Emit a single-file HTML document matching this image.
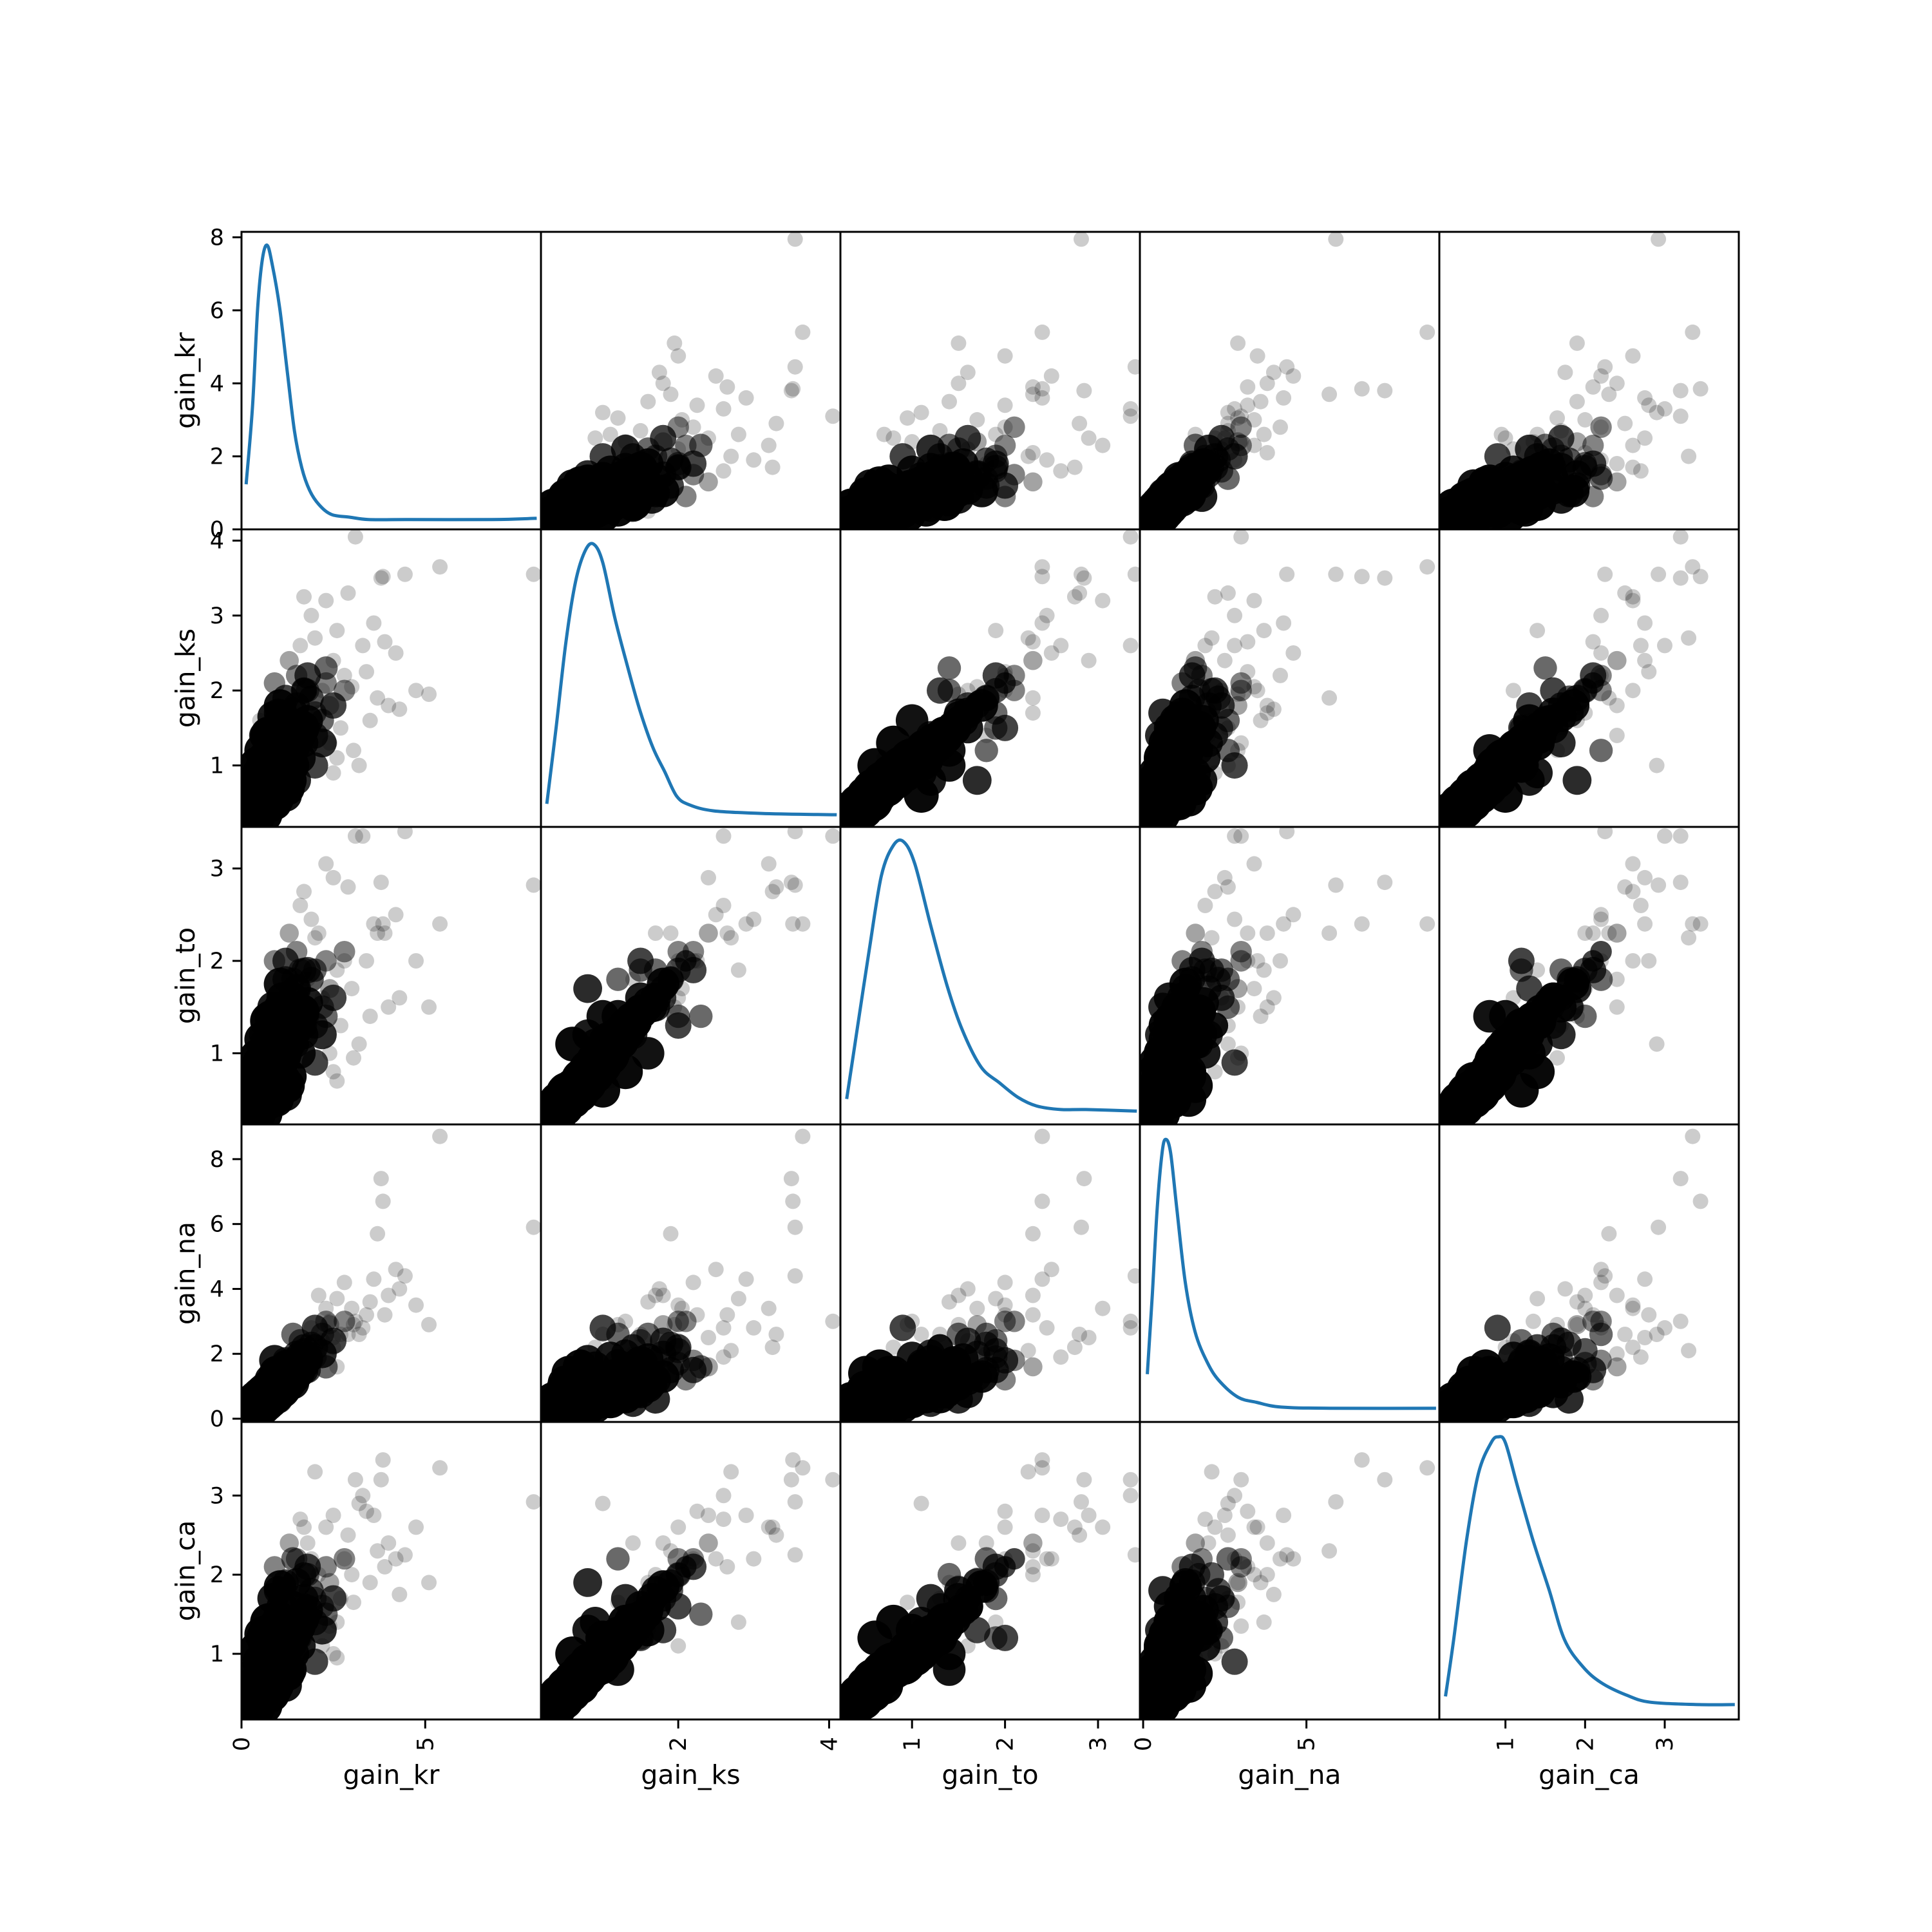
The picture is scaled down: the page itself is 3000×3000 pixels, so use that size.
<!DOCTYPE html>
<html><head><meta charset="utf-8"><style>
html,body{margin:0;padding:0;background:#fff}
svg{display:block}
text{font-family:"DejaVu Sans","Liberation Sans",sans-serif;fill:#000}
</style></head><body>
<svg id="fig" width="3000" height="3000" viewBox="0 0 3000 3000" xmlns="http://www.w3.org/2000/svg">
<rect width="3000" height="3000" fill="#fff"/>
<g id="marks"></g>
<g id="frames"></g>
<g id="labels"></g>
</svg>
<script>
// ---------- data ----------
const varNames = ["gain_kr","gain_ks","gain_to","gain_na","gain_ca"];
const varMin = [0.0, 0.18, 0.23, -0.1, 0.17];
const varMax = [8.15, 4.15, 3.45, 9.07, 3.93];
const yTicks = [[0,2,4,6,8],[1,2,3,4],[1,2,3],[0,2,4,6,8],[1,2,3]];
const xTicks = [[0,5],[2,4],[1,2,3],[0,5],[1,2,3]];

// observations (same rows across panels); count = how many overlapping samples
const krVals = [7.95,5.4,5.1,4.75,4.45,4.3,4.2,4.0,3.9,3.85,3.8,3.7,3.6,3.5,3.4,3.3,3.1,3.05,3.0,2.9,2.8,2.7,2.6,2.5,2.4,2.3,2.2,2.1,2.0,1.9,1.8,1.7,2.5,1.6,3.2,2.6,0.5,
 0.3,0.4,0.5,0.6,0.7,0.8,0.9,1.0,1.1,1.2,1.35,1.5,1.65,1.8,
 0.5,0.8,0.9,1.3,0.7,1.1,1.4,1.2,1.6,2.0,0.35,0.6,1.0,1.9,2.2,0.9,1.5,1.3,2.4,0.6,1.2,
 0.45,0.75,1.05,1.45,0.95,1.7,2.3,0.55,1.25,0.85,
 0.5,0.9,1.2,0.7,1.4,1.0,1.7,0.8,1.5,1.1,2.0,0.6,1.3,1.8,0.4,1.6,
 2.2,2.5,1.8,1.5,2.0,1.2,2.8,1.7,1.0,2.3,1.4,0.9];
const ksVals = [3.55,3.65,1.95,2.0,3.55,1.75,2.5,1.8,2.65,3.52,3.5,1.9,2.9,1.6,2.25,2.6,4.05,1.2,2.05,3.3,2.2,1.5,2.8,2.4,1.3,3.2,2.0,1.7,2.7,3.0,1.4,3.25,0.9,2.6,1.0,1.1,1.6,
 0.35,0.45,0.55,0.65,0.75,0.85,0.95,1.05,1.1,1.2,1.3,1.4,1.5,1.6,
 0.8,0.5,1.3,0.8,1.1,0.7,1.7,1.9,1.1,1.4,0.6,0.35,1.6,1.9,1.6,2.1,2.2,2.4,1.8,1.4,0.6,
 1.0,1.4,1.8,1.2,0.55,2.0,2.1,1.2,0.7,1.65,
 0.9,0.5,1.6,0.6,1.0,1.3,1.3,1.2,1.8,1.5,1.7,1.0,0.9,2.0,0.7,1.5,
 1.3,1.8,2.2,0.8,1.0,1.5,2.0,2.0,1.7,2.3,1.2,0.8];
const toVals = [2.82,2.4,1.5,2.0,3.4,1.6,2.5,1.5,2.3,2.4,2.85,2.3,2.4,1.4,2.0,3.35,3.35,0.95,1.7,2.8,2.0,1.3,1.9,2.9,1.0,3.05,1.6,2.3,2.25,2.45,1.8,2.75,0.8,2.6,1.1,0.7,1.4,
 0.35,0.45,0.55,0.6,0.7,0.8,0.9,1.0,1.1,1.15,1.25,1.35,1.45,1.55,
 0.8,0.5,1.3,0.75,1.0,0.7,1.6,1.8,1.0,1.3,0.5,0.35,1.5,1.8,1.5,2.0,2.1,2.3,1.7,1.2,0.55,
 0.95,1.35,1.75,1.1,0.5,1.9,2.0,1.15,0.65,1.5,
 0.9,0.6,1.0,1.1,1.4,0.8,1.2,1.4,1.7,1.6,1.9,0.6,1.1,1.4,0.7,1.9,
 1.2,1.6,1.9,1.7,0.9,2.0,2.1,1.3,1.5,1.4,1.8,1.2];
const naVals = [5.9,8.7,2.9,3.5,4.4,4.0,4.6,3.8,3.2,6.7,7.4,5.7,4.3,3.6,3.2,2.8,3.0,2.9,3.4,2.6,4.2,2.6,3.7,2.5,3.0,3.4,2.4,3.8,2.1,2.8,2.0,2.2,2.2,1.9,2.6,1.6,0.7,
 0.25,0.4,0.5,0.6,0.7,0.8,0.9,1.0,1.1,1.2,1.35,1.5,1.7,1.85,
 0.4,0.9,0.7,1.4,0.6,1.2,1.2,1.5,1.9,2.2,0.3,0.55,1.0,2.3,2.6,1.2,1.8,1.6,2.9,0.5,1.0,
 0.6,0.9,1.3,1.7,1.4,2.1,3.0,0.7,1.6,1.1,
 0.4,1.1,1.0,0.9,1.1,1.4,1.5,1.2,2.0,0.8,1.9,0.7,1.6,1.7,0.5,2.4,
 2.0,2.4,1.5,1.3,2.8,1.8,3.0,2.2,0.6,1.6,2.6,1.8];
const caVals = [2.92,3.35,1.9,2.6,2.25,1.75,2.2,2.4,2.1,3.45,3.2,2.3,2.75,1.9,2.8,3.0,3.2,1.65,2.0,2.5,2.2,1.7,1.4,2.75,1.35,2.6,1.1,2.0,3.3,2.2,2.4,2.6,1.0,2.7,2.9,0.95,1.3,
 0.35,0.45,0.55,0.65,0.75,0.85,0.9,1.0,1.1,1.15,1.25,1.35,1.45,1.55,
 0.8,0.5,1.2,0.8,1.1,0.75,1.6,1.9,1.1,1.4,0.6,0.35,1.5,1.8,1.6,2.1,2.2,2.4,1.9,1.3,0.6,
 1.05,1.4,1.85,1.2,0.6,2.0,2.1,1.25,0.75,1.7,
 0.9,0.55,1.3,1.0,1.0,1.4,1.7,0.8,1.3,1.6,1.7,1.2,1.4,2.0,0.6,1.2,
 1.3,1.7,2.1,1.9,0.9,1.2,2.2,1.6,1.8,1.5,2.2,1.3];
const counts = [1,1,1,1,1,1,1,1,1,1,1,1,1,1,1,1,1,1,1,1,1,1,1,1,1,1,1,1,1,1,1,1,1,1,1,1,1,
 40,40,40,40,40,40,40,40,35,30,25,20,15,10,
 20,20,15,15,20,20,10,6,10,6,20,20,8,5,4,3,3,2,2,8,12,
 20,20,12,8,15,5,3,15,15,10,
 15,15,12,15,12,15,8,12,6,10,4,15,10,4,20,4,
 8,6,6,8,6,6,3,6,8,4,4,10];

// KDE curves (x in data units, density as fraction of panel height)
const kdeX = [
 [0.13,0.30,0.44,0.57,0.70,0.84,1.04,1.24,1.44,1.64,1.85,2.11,2.45,2.95,3.46,4.46,6.81,7.99],
 [0.26,0.38,0.51,0.64,0.77,0.88,1.0,1.16,1.33,1.49,1.66,1.82,1.98,2.15,2.47,3.13,4.08],
 [0.30,0.40,0.54,0.67,0.80,0.91,1.03,1.20,1.38,1.54,1.74,1.94,2.14,2.34,2.60,2.87,3.40],
 [0.13,0.28,0.43,0.58,0.69,0.84,1.03,1.29,1.59,1.97,2.34,2.91,3.47,4.22,5.73,8.92],
 [0.25,0.35,0.51,0.66,0.82,0.91,1.00,1.15,1.35,1.55,1.74,1.97,2.20,2.51,2.82,3.43,3.86]];
const kdeDensity = [
 [.157,.413,.744,.909,.955,.888,.744,.537,.331,.207,.132,.083,.050,.041,.033,.033,.033,.037],
 [.083,.331,.620,.826,.930,.950,.888,.702,.537,.393,.269,.186,.103,.074,.054,.045,.041],
 [.091,.298,.587,.835,.938,.950,.876,.669,.463,.318,.194,.140,.091,.062,.050,.050,.045],
 [.166,.427,.718,.905,.950,.905,.718,.469,.303,.199,.137,.083,.066,.050,.046,.046],
 [.083,.269,.599,.826,.930,.950,.930,.785,.599,.434,.269,.178,.124,.083,.058,.050,.050]];

// ---------- layout ----------
const L=375, T=360, CW=465, RH=462, N=5, R=12;
const cols=[krVals,ksVals,toVals,naVals,caVals];
const NS="http://www.w3.org/2000/svg";
function mk(tag,attrs,parent){const e=document.createElementNS(NS,tag);for(const k in attrs)e.setAttribute(k,attrs[k]);parent.appendChild(e);return e;}
function sx(j,v){return L+j*CW+(v-varMin[j])/(varMax[j]-varMin[j])*CW;}
function sy(i,v){return T+(i+1)*RH-(v-varMin[i])/(varMax[i]-varMin[i])*RH;}
function smoothPath(pts){
  let d='M'+pts[0][0].toFixed(1)+','+pts[0][1].toFixed(1);
  for(let k=0;k<pts.length-1;k++){
    const p0=pts[Math.max(0,k-1)],p1=pts[k],p2=pts[k+1],p3=pts[Math.min(pts.length-1,k+2)];
    const c1=[p1[0]+(p2[0]-p0[0])/6,p1[1]+(p2[1]-p0[1])/6];
    const c2=[p2[0]-(p3[0]-p1[0])/6,p2[1]-(p3[1]-p1[1])/6];
    d+='C'+c1[0].toFixed(1)+','+c1[1].toFixed(1)+' '+c2[0].toFixed(1)+','+c2[1].toFixed(1)+' '+p2[0].toFixed(1)+','+p2[1].toFixed(1);
  }
  return d;
}
const marks=document.getElementById('marks'), frames=document.getElementById('frames'), labels=document.getElementById('labels');

for(let i=0;i<N;i++){for(let j=0;j<N;j++){
  const g=mk('g',{'clip-path':`url(#c${i}${j})`},marks);
  
  
  const cp=mk('clipPath',{id:`c${i}${j}`},marks);
  mk('rect',{x:L+j*CW,y:T+i*RH,width:CW,height:RH},cp);
  if(i===j){
    const xs=kdeX[i], ds=kdeDensity[i], pts=[];
    for(let k=0;k<xs.length;k++){pts.push([sx(j,xs[k]),T+(i+1)*RH-ds[k]*RH]);}
    const p=mk('path',{d:smoothPath(pts),fill:'none',stroke:'#1f77b4','stroke-width':5,'stroke-linejoin':'round','stroke-linecap':'square'},g);
    
    
  } else {
    for(let k=0;k<counts.length;k++){
      const op=1-Math.pow(0.8,counts[k]);
      const rr=R*Math.pow(counts[k],0.3);
      const c=mk('circle',{cx:sx(j,cols[j][k]).toFixed(1),cy:sy(i,cols[i][k]).toFixed(1),r:rr.toFixed(1),fill:'#000','fill-opacity':op.toFixed(3)},g);
      
      
    }
  }
  const f=mk('rect',{x:L+j*CW,y:T+i*RH,width:CW,height:RH,fill:'none',stroke:'#000','stroke-width':3},frames);
  
  
}}

// y ticks/labels (left column)
for(let i=0;i<N;i++){
  for(const t of yTicks[i]){
    const y=sy(i,t);
    const tk=mk('line',{x1:L-14,x2:L,y1:y,y2:y,stroke:'#000','stroke-width':3},labels);
    
    
    const tx=mk('text',{x:L-27,y:y+12,'text-anchor':'end','font-size':35},labels);
    tx.textContent=t;
    
    
  }
  const cy=T+i*RH+RH/2;
  const yl=mk('text',{x:302,y:cy,'text-anchor':'middle','font-size':41,transform:`rotate(-90 302 ${cy})`},labels);
  yl.textContent=varNames[i];
  
  
}
// x ticks/labels (bottom row)
const B=T+N*RH;
for(let j=0;j<N;j++){
  for(const t of xTicks[j]){
    const x=sx(j,t);
    const tk=mk('line',{x1:x,x2:x,y1:B,y2:B+14,stroke:'#000','stroke-width':3},labels);
    
    
    const tx=mk('text',{x:x+12,y:B+27,'text-anchor':'end','font-size':35,transform:`rotate(-90 ${x+12} ${B+27})`},labels);
    tx.textContent=t;
    
    
  }
  const xl=mk('text',{x:L+j*CW+CW/2,y:2770,'text-anchor':'middle','font-size':41},labels);
  xl.textContent=varNames[j];
  
  
}
</script>
</body></html>
